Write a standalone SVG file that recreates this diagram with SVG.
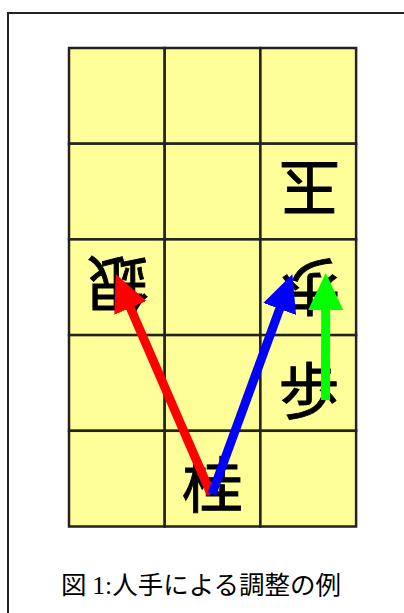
<svg xmlns="http://www.w3.org/2000/svg" width="404" height="613" viewBox="0 0 404 613">
<style>
.cell{fill:#ffff99;stroke:#222;stroke-width:2.5}
.pc{font-family:"Noto Sans CJK JP","Noto Sans CJK SC",sans-serif;font-size:61px;fill:#000;stroke:#000;stroke-width:0.9;text-anchor:middle}
.cap{font-family:"Noto Sans CJK JP","Noto Sans CJK SC",sans-serif;font-size:25.5px;fill:#000}
.ser{font-family:"Liberation Serif",serif}
.arr{fill:none;stroke-width:9}
</style>
<defs>
<marker id="hr" markerUnits="userSpaceOnUse" viewBox="0 -18 37 36" markerWidth="37" markerHeight="36" refX="1" refY="0" orient="auto"><path d="M0,-17.5 L37,0 L0,17.5 z" fill="#ff0000"/></marker>
<marker id="hb" markerUnits="userSpaceOnUse" viewBox="0 -18 37 36" markerWidth="37" markerHeight="36" refX="1" refY="0" orient="auto"><path d="M0,-17.5 L37,0 L0,17.5 z" fill="#0000ff"/></marker>
<marker id="hg" markerUnits="userSpaceOnUse" viewBox="0 -18 37 36" markerWidth="37" markerHeight="36" refX="1" refY="0" orient="auto"><path d="M0,-17.5 L37,0 L0,17.5 z" fill="#00ff00"/></marker>
</defs>
<rect x="8" y="13" width="420" height="620" fill="#fff" stroke="#222" stroke-width="2"/>
<g id="board">
<rect class="cell" x="69" y="48" width="95.7" height="95.7"/>
<rect class="cell" x="164.7" y="48" width="95.7" height="95.7"/>
<rect class="cell" x="260.4" y="48" width="95.7" height="95.7"/>
<rect class="cell" x="69" y="143.7" width="95.7" height="95.7"/>
<rect class="cell" x="164.7" y="143.7" width="95.7" height="95.7"/>
<rect class="cell" x="260.4" y="143.7" width="95.7" height="95.7"/>
<rect class="cell" x="69" y="239.4" width="95.7" height="95.7"/>
<rect class="cell" x="164.7" y="239.4" width="95.7" height="95.7"/>
<rect class="cell" x="260.4" y="239.4" width="95.7" height="95.7"/>
<rect class="cell" x="69" y="335.1" width="95.7" height="95.7"/>
<rect class="cell" x="164.7" y="335.1" width="95.7" height="95.7"/>
<rect class="cell" x="260.4" y="335.1" width="95.7" height="95.7"/>
<rect class="cell" x="69" y="430.8" width="95.7" height="95.7"/>
<rect class="cell" x="164.7" y="430.8" width="95.7" height="95.7"/>
<rect class="cell" x="260.4" y="430.8" width="95.7" height="95.7"/>
</g>
<g id="gyoku" transform="translate(309.5,188) rotate(180)"><text class="pc" x="0" y="23">玉</text></g>
<g id="gin" transform="translate(118,284) rotate(180)"><text class="pc" x="0" y="23">銀</text></g>
<g id="fu-gote" transform="translate(310,287) rotate(180)"><text class="pc" x="0" y="23">歩</text></g>
<g id="fu" transform="translate(309,391)"><text class="pc" x="0" y="23">歩</text></g>
<g id="kei" transform="translate(212.5,485)"><text class="pc" x="0" y="23">桂</text></g>
<g id="connectors">
<line class="arr" x1="211" y1="494" x2="130" y2="307" stroke="#ff0000" marker-end="url(#hr)"/>
<line class="arr" x1="212" y1="494" x2="280" y2="308" stroke="#0000ff" marker-end="url(#hb)"/>
<line class="arr" x1="325.5" y1="400" x2="325.7" y2="309" stroke="#00ff00" marker-end="url(#hg)"/>
</g>
<text class="cap" x="201" y="594" text-anchor="middle">図 <tspan class="ser">1:</tspan>人手による調整の例</text>
</svg>
